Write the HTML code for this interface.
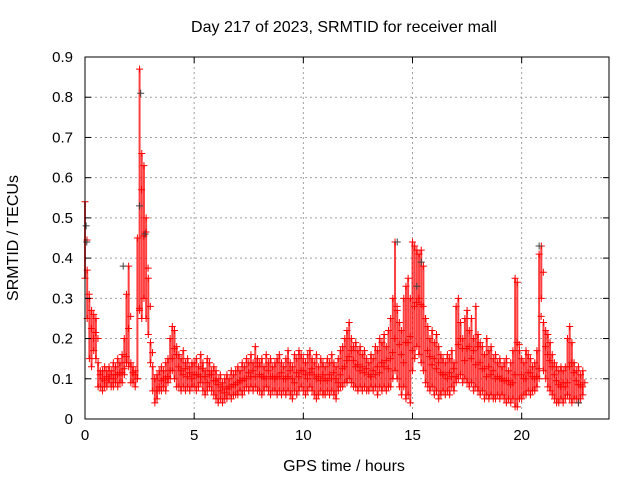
<!DOCTYPE html>
<html><head><meta charset="utf-8"><style>
body{margin:0;background:#fff;}
svg{display:block;font-family:"Liberation Sans",sans-serif;}
</style></head><body>
<svg id="chart" width="640" height="480" viewBox="0 0 640 480">
<rect width="640" height="480" fill="#fff"/>
<g id="grid"></g>
<g id="marks"></g>
<rect x="85" y="57" width="524" height="362" fill="none" stroke="#000" stroke-width="1"/>
<g id="ticks"></g>
<text x="344" y="32" font-size="16" text-anchor="middle">Day 217 of 2023, SRMTID for receiver mall</text>
<text x="344" y="471" font-size="16" text-anchor="middle">GPS time / hours</text>
<text transform="translate(18,238) rotate(-90)" font-size="16" text-anchor="middle">SRMTID / TECUs</text>
</svg>
<script>
const xTicks=[0,5,10,15,20];
const yTicks=[0,0.1,0.2,0.3,0.4,0.5,0.6,0.7,0.8,0.9];
const yTickLabels=["0","0.1","0.2","0.3","0.4","0.5","0.6","0.7","0.8","0.9"];
const sampleStep=0.1;
const redHigh=[0.54,0.37,0.30,0.27,0.26,0.25,0.14,0.12,0.12,0.13,
0.12,0.13,0.12,0.14,0.13,0.15,0.14,0.16,0.20,0.31,
0.38,0.14,0.13,0.12,0.45,0.87,0.66,0.63,0.50,0.35,
0.19,0.13,0.10,0.11,0.12,0.13,0.12,0.14,0.15,0.20,
0.23,0.22,0.18,0.16,0.15,0.17,0.14,0.15,0.13,0.14,
0.14,0.15,0.13,0.16,0.14,0.12,0.15,0.14,0.12,0.13,
0.12,0.10,0.11,0.09,0.10,0.11,0.10,0.12,0.11,0.12,
0.13,0.12,0.14,0.13,0.15,0.14,0.16,0.14,0.18,0.15,
0.14,0.15,0.13,0.16,0.14,0.15,0.13,0.14,0.15,0.16,
0.14,0.13,0.15,0.17,0.14,0.13,0.16,0.15,0.17,0.16,
0.15,0.14,0.16,0.17,0.15,0.14,0.16,0.13,0.15,0.14,
0.13,0.15,0.14,0.16,0.14,0.13,0.15,0.17,0.18,0.20,
0.22,0.24,0.20,0.18,0.19,0.17,0.18,0.16,0.17,0.15,
0.14,0.16,0.15,0.18,0.17,0.20,0.19,0.21,0.18,0.22,
0.25,0.30,0.44,0.27,0.24,0.22,0.30,0.33,0.35,0.30,
0.44,0.43,0.42,0.41,0.42,0.38,0.25,0.23,0.20,0.22,
0.19,0.21,0.18,0.16,0.15,0.14,0.16,0.15,0.17,0.14,
0.28,0.30,0.24,0.20,0.25,0.27,0.22,0.25,0.20,0.28,
0.21,0.19,0.18,0.16,0.20,0.17,0.18,0.15,0.16,0.14,
0.15,0.13,0.14,0.15,0.12,0.14,0.17,0.35,0.34,0.17,
0.15,0.14,0.17,0.16,0.15,0.13,0.14,0.17,0.41,0.43,
0.24,0.22,0.21,0.19,0.16,0.14,0.13,0.12,0.13,0.12,
0.13,0.20,0.23,0.19,0.14,0.12,0.13,0.11,0.12];
const redLow=[0.35,0.25,0.15,0.13,0.17,0.15,0.08,0.08,0.07,0.08,
0.08,0.09,0.08,0.08,0.09,0.08,0.09,0.09,0.11,0.14,
0.13,0.09,0.09,0.08,0.10,0.27,0.25,0.30,0.25,0.21,
0.14,0.07,0.04,0.05,0.07,0.07,0.08,0.07,0.09,0.10,
0.12,0.10,0.08,0.08,0.07,0.08,0.07,0.08,0.07,0.08,
0.08,0.07,0.08,0.09,0.07,0.06,0.07,0.08,0.07,0.06,
0.05,0.04,0.05,0.04,0.05,0.05,0.06,0.05,0.06,0.06,
0.06,0.07,0.06,0.07,0.08,0.07,0.08,0.07,0.08,0.07,
0.07,0.06,0.07,0.08,0.07,0.06,0.07,0.07,0.06,0.07,
0.06,0.07,0.06,0.07,0.06,0.05,0.07,0.06,0.07,0.08,
0.07,0.06,0.07,0.08,0.07,0.06,0.05,0.06,0.07,0.06,
0.06,0.07,0.06,0.07,0.06,0.05,0.07,0.08,0.08,0.09,
0.09,0.10,0.09,0.08,0.08,0.07,0.08,0.07,0.08,0.07,
0.07,0.08,0.07,0.08,0.06,0.08,0.07,0.08,0.07,0.08,
0.08,0.10,0.12,0.10,0.08,0.06,0.08,0.05,0.06,0.04,
0.12,0.15,0.18,0.16,0.14,0.12,0.09,0.08,0.07,0.08,
0.06,0.07,0.05,0.06,0.07,0.06,0.07,0.06,0.08,0.07,
0.09,0.10,0.11,0.09,0.10,0.09,0.08,0.09,0.07,0.08,
0.07,0.06,0.07,0.05,0.06,0.05,0.06,0.05,0.05,0.06,
0.05,0.06,0.05,0.04,0.05,0.04,0.05,0.03,0.03,0.05,
0.05,0.06,0.06,0.07,0.06,0.07,0.07,0.08,0.10,0.30,
0.12,0.10,0.08,0.07,0.06,0.05,0.04,0.04,0.05,0.04,
0.05,0.06,0.05,0.04,0.05,0.05,0.04,0.05,0.06];
const blackHours=[0.05,0.08,2.55,2.5,2.75,1.75,14.3,15.4,20.8,15.2,22.6];
const blackValues=[0.48,0.44,0.81,0.53,0.46,0.38,0.44,0.39,0.43,0.33,0.04];

const L=85,R=609,T=57,B=419,XMAX=24,YMAX=0.9;
const xs=h=>L+(R-L)*h/XMAX;
const ys=v=>B-(B-T)*v/YMAX;
const NS="http://www.w3.org/2000/svg";
const grid=document.getElementById('grid'),ticks=document.getElementById('ticks'),marks=document.getElementById('marks');
function mk(tag,attrs,parent){const e=document.createElementNS(NS,tag);for(const k in attrs)e.setAttribute(k,attrs[k]);parent.appendChild(e);return e;}
xTicks.forEach(t=>{
  const x=xs(t);
  if(t>0){const g=mk('line',{x1:x,x2:x,y1:T,y2:B,stroke:'#a0a0a0','stroke-dasharray':'2,3'},grid);
  
  }
  const tk=mk('line',{x1:x,x2:x,y1:B,y2:B-6,stroke:'#000'},ticks);
  
  
  mk('line',{x1:x,x2:x,y1:T,y2:T+6,stroke:'#000'},ticks);
  const lb=mk('text',{x:x,y:B+21,'font-size':15,'text-anchor':'middle'},ticks);
  lb.textContent=String(t);
  
  
});
yTicks.forEach((t,i)=>{
  const y=ys(t);
  if(t>0&&t<YMAX-1e-9){const g=mk('line',{x1:L,x2:R,y1:y,y2:y,stroke:'#a0a0a0','stroke-dasharray':'2,3'},grid);
  
  }
  const tk=mk('line',{x1:L,x2:L+6,y1:y,y2:y,stroke:'#000'},ticks);
  
  
  mk('line',{x1:R,x2:R-6,y1:y,y2:y,stroke:'#000'},ticks);
  const lb=mk('text',{x:L-12,y:y+5,'font-size':15,'text-anchor':'end'},ticks);
  lb.textContent=yTickLabels[i];
  
  
});
function cross(x,y,color,name){
  const p=mk('path',{d:`M${x-3.5},${y}h7M${x},${y-3.5}v7`,stroke:color,'stroke-width':1,fill:'none'},marks);
  
  
}
redHigh.forEach((hv,i)=>{
  const h=i*sampleStep,x=xs(h),lv=redLow[i];
  const ln=mk('line',{x1:x,x2:x,y1:ys(hv),y2:ys(lv),stroke:'#ff0000','stroke-width':2,opacity:0.75},marks);
  
  
  cross(x,ys(hv),'#ff0000','red-point-high');
  cross(x,ys(lv),'#ff0000','red-point-low');
  cross(x+2,(ys(hv)+ys(lv))/2,'#ff0000','red-point-mid');
});
blackHours.forEach((h,i)=>cross(xs(h),ys(blackValues[i]),'#404040','black-point'));
</script>
</body></html>
